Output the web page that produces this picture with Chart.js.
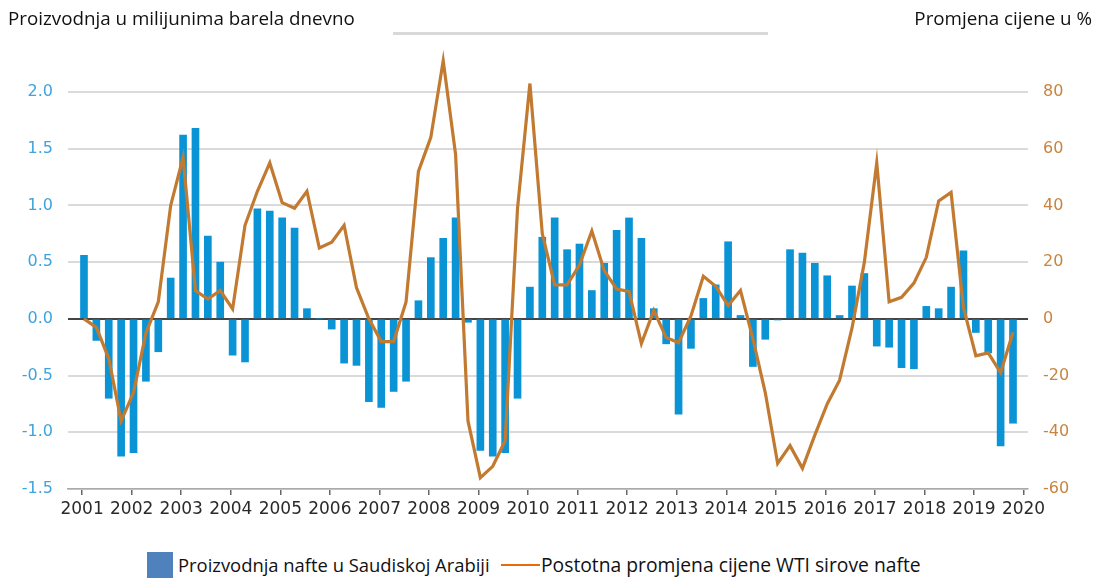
<!DOCTYPE html>
<html>
<head>
<meta charset="utf-8">
<script src="https://cdn.jsdelivr.net/npm/chart.js@4.4.1/dist/chart.umd.min.js"></script>
<style>
  html, body { margin: 0; padding: 0; background: #fff; }
  #wrap { position: relative; width: 1098px; height: 581px; overflow: hidden; }
  #chartBox { position: absolute; left: 0; top: 0; width: 1098px; height: 540px; }
  .txt { position: absolute; white-space: nowrap; font-family: "Open Sans", sans-serif; color: #111; font-size: 18.8px; line-height: 22px; }
  #sep { position: absolute; left: 393px; top: 32px; width: 375px; height: 3px; background: #d9d9d9; }
  #legSq { position: absolute; left: 147px; top: 552px; width: 26px; height: 26px; background: #4f81bd; }
  #legLn { position: absolute; left: 501px; top: 564px; width: 39px; height: 2px; background: #e46c0a; }
</style>
</head>
<body>
<div id="wrap">
  <div id="chartBox"><canvas id="c"></canvas></div>
  <div class="txt" id="tl" style="left:8px; top:7px;">Proizvodnja u milijunima barela dnevno</div>
  <div class="txt" id="tr" style="right:6px; top:7px;">Promjena cijene u %</div>
  <div id="sep"></div>
  <div id="legSq"></div>
  <div class="txt" style="left:178px; top:554px; font-size:18.4px;">Proizvodnja nafte u Saudiskoj Arabiji</div>
  <div id="legLn"></div>
  <div class="txt" style="left:541px; top:554px; font-size:19.3px;">Postotna promjena cijene WTI sirove nafte</div>
</div>
<script>
// ---- Data (quarterly, 2001Q1 .. 2019Q4) ----
const years = [2001,2002,2003,2004,2005,2006,2007,2008,2009,2010,2011,2012,2013,2014,2015,2016,2017,2018,2019,2020];
const quarters = [];
for (const y of years.slice(0, 19)) { for (let q = 1; q <= 4; q++) quarters.push(y + 'Q' + q); }

// Saudi production change (million barrels per day)
const saudiProduction = [
  0.56, -0.19, -0.70, -1.21,   // 2001
  -1.18, -0.55, -0.29, 0.36,   // 2002
  1.62, 1.68, 0.73, 0.50,      // 2003
  -0.32, -0.38, 0.97, 0.95,    // 2004
  0.89, 0.80, 0.09, 0.00,      // 2005
  -0.09, -0.39, -0.41, -0.73,  // 2006
  -0.78, -0.64, -0.55, 0.16,   // 2007
  0.54, 0.71, 0.89, -0.03,     // 2008
  -1.16, -1.21, -1.18, -0.70,  // 2009
  0.28, 0.72, 0.89, 0.61,      // 2010
  0.66, 0.25, 0.49, 0.78,      // 2011
  0.89, 0.71, 0.09, -0.22,     // 2012
  -0.84, -0.26, 0.18, 0.30,    // 2013
  0.68, 0.03, -0.42, -0.18,    // 2014
  -0.01, 0.61, 0.58, 0.49,     // 2015
  0.38, 0.03, 0.29, 0.40,      // 2016
  -0.24, -0.25, -0.43, -0.44,  // 2017
  0.11, 0.09, 0.28, 0.60,      // 2018
  -0.12, -0.30, -1.12, -0.92   // 2019
];

// WTI crude price change (%)
const wtiChange = [
  0, -3, -14, -36,
  -26, -5, 6, 40,
  57, 10, 7, 10,
  3.5, 33, 45, 55,
  41, 39, 45, 25,
  27, 33, 11, 0,
  -8, -8, 6, 52,
  64, 91, 58, -36,
  -56, -52, -43, 39,
  83, 30, 12, 12,
  19, 31, 17, 10.5,
  9.7, -8.7, 3, -6.6,
  -8.4, 1, 15, 11.5,
  4.7, 10, -7, -26,
  -51, -44.7, -52.7, -41,
  -30, -21.6, -3.3, 20,
  55, 6, 7.6, 12.6,
  21.7, 41.6, 44.6, 4,
  -13, -12, -19, -4.7
];

const leftTicks = [-1.5, -1.0, -0.5, 0.0, 0.5, 1.0, 1.5, 2.0];
const rightTicks = [-60, -40, -20, 0, 20, 40, 60, 80];

const barPts = saudiProduction.map((v, i) => ({ x: i, y: v }));
const linePts = wtiChange.map((v, i) => ({ x: i, y: v }));

const tickFont = { family: 'DejaVu Sans', size: 16 };
const xTickFont = { family: 'DejaVu Sans', size: 17 };

new Chart(document.getElementById('c'), {
  type: 'bar',
  data: {
    datasets: [
      {
        type: 'line',
        label: 'Postotna promjena cijene WTI sirove nafte',
        data: linePts,
        yAxisID: 'y1',
        borderColor: '#c17a30',
        borderWidth: 3.2,
        pointRadius: 0,
        tension: 0,
        order: 0,
        clip: false
      },
      {
        type: 'bar',
        label: 'Proizvodnja nafte u Saudiskoj Arabiji',
        data: barPts,
        yAxisID: 'y',
        backgroundColor: '#0a94d6',
        barThickness: 7,
        order: 1
      }
    ]
  },
  options: {
    responsive: true,
    maintainAspectRatio: false,
    animation: false,
    layout: { padding: { top: 58, left: 0, right: 0, bottom: 0 } },
    plugins: { legend: { display: false }, tooltip: { enabled: false } },
    scales: {
      x: {
        type: 'linear',
        offset: false,
        min: -1.29,
        max: 76.21,
        afterBuildTicks: s => { s.ticks = years.map((y, k) => ({ value: k * 4 - 0.15 })); },
        afterFit: s => { s.height = 51; },
        ticks: {
          callback: (v, idx) => String(years[idx]),
          font: xTickFont,
          color: '#2a2a2a',
          padding: 4,
          maxRotation: 0,
          autoSkip: false
        },
        grid: { offset: false, drawOnChartArea: false, drawTicks: true, tickLength: 6, color: '#666', lineWidth: 1.5 },
        border: { display: true, color: '#aaa', width: 1.5 }
      },
      y: {
        position: 'left',
        min: -1.5,
        max: 2.3,
        afterBuildTicks: s => { s.ticks = leftTicks.map(v => ({ value: v })); },
        afterFit: s => { s.width = 68; },
        ticks: {
          callback: v => v.toFixed(1),
          font: tickFont,
          color: '#3fa3dd',
          padding: 15
        },
        grid: {
          drawTicks: false,
          color: c => (c.tick && c.tick.value === 0) ? '#444' : '#dadada',
          lineWidth: 2
        },
        border: { display: false }
      },
      y1: {
        position: 'right',
        min: -60,
        max: 92,
        afterBuildTicks: s => { s.ticks = rightTicks.map(v => ({ value: v })); },
        afterFit: s => { s.width = 70; },
        ticks: {
          callback: v => String(v),
          font: tickFont,
          color: '#c8853f',
          padding: 15
        },
        grid: { drawOnChartArea: false, drawTicks: false },
        border: { display: false }
      }
    }
  }
});
</script>
</body>
</html>
